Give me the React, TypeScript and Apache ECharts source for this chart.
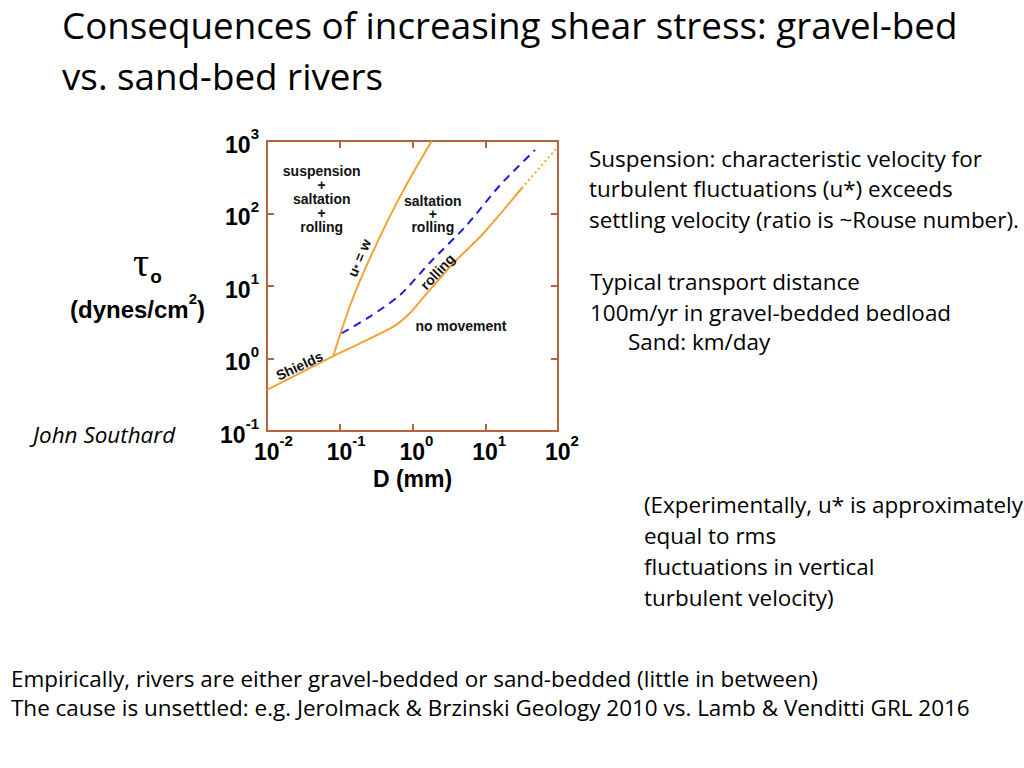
import { useEffect, useRef } from "react";
import * as echarts from "echarts";

// ---- data ----
const xTickExp = [-2, -1, 0, 1, 2];
const yTickExp = [-1, 0, 1, 2, 3];

// Shields threshold curve (D in mm, tau in dynes/cm^2)
const shieldsD = [0.01, 0.0815, 0.19, 0.545, 0.925, 1.57, 3.64, 9.4, 31.7];
const shieldsTau = [0.368, 1.08, 1.62, 2.75, 4.25, 7.9, 20.6, 53, 223];
// dotted extension of the Shields curve
const shieldsExtD = [31.7, 96];
const shieldsExtTau = [223, 793];
// u* = w curve
const uD = [0.0815, 0.1007, 0.138, 0.19, 0.339, 0.607, 1.026, 1.84];
const uTau = [1.08, 2.11, 5.3, 11.9, 43, 140, 368, 1000];
// blue dashed boundary (saltation / rolling)
const blueD = [0.1064, 0.26, 0.673, 1.74, 5.56, 16, 48.3];
const blueTau = [2.23, 3.78, 7.5, 21.1, 69, 247, 752];

const titleLines = [
  "Consequences of increasing shear stress: gravel-bed",
  "vs. sand-bed rivers",
];
const rightBlock1 = [
  "Suspension: characteristic velocity for",
  "turbulent fluctuations (u*) exceeds",
  "settling velocity (ratio is ~Rouse number).",
];
const rightBlock2 = ["Typical transport distance", "100m/yr in gravel-bedded bedload"];
const rightBlock2b = "Sand: km/day";
const credit = "John Southard";
const noteLines = [
  "(Experimentally, u* is approximately",
  "equal to rms",
  "fluctuations in vertical",
  "turbulent velocity)",
];
const bottomLines = [
  "Empirically, rivers are either gravel-bedded or sand-bedded (little in between)",
  "The cause is unsettled: e.g. Jerolmack & Brzinski Geology 2010 vs. Lamb & Venditti GRL 2016",
];

const ORANGE = "#f4a233";
const BLUE = "#1c1ce0";
const FRAME = "#b4653e";
const SANS = "Liberation Sans";
const BODY = "Open Sans";

const pairs = (a: number[], b: number[]) => a.map((v, i) => [v, b[i]]);

export default function App() {
  const ref = useRef<HTMLDivElement>(null);
  useEffect(() => {
    if (!ref.current) return;
    const chart = echarts.init(ref.current, undefined, { renderer: "svg", width: 1024, height: 768 });

    const ctx = document.createElement("canvas").getContext("2d")!;
    const fit = (text: string, family: string, width: number, style = "normal") => {
      ctx.font = `${style} normal 100px "${family}"`;
      return (100 * width) / ctx.measureText(text).width;
    };
    const titleSize = fit(titleLines[0], BODY, 896);
    const bodySize = fit(bottomLines[1], BODY, 959);

    const K_BODY = 0.388;
    const K_SANS = 0.3465;
    const bodyText = (text: string, x: number, baseline: number, size: number, italic = false) => ({
      type: "text",
      x,
      y: baseline - K_BODY * size,
      silent: true,
      style: {
        text,
        fill: "#000",
        fontFamily: BODY,
        fontSize: size,
        fontStyle: italic ? "italic" : "normal",
        align: "left",
        verticalAlign: "middle",
      },
    });
    const plotText = (text: string, x: number, y: number, rotDeg = 0, lineHeight = 14) => ({
      type: "text",
      x,
      y,
      rotation: (rotDeg * Math.PI) / 180,
      silent: true,
      z: 10,
      style: {
        text,
        fill: "#111",
        fontFamily: SANS,
        fontWeight: "bold",
        fontSize: 14,
        lineHeight,
        align: "center",
        verticalAlign: "middle",
      },
    });

    const elements: any[] = [];
    titleLines.forEach((t, i) => elements.push(bodyText(t, 62, [39.3, 90.3][i], titleSize)));
    rightBlock1.forEach((t, i) => elements.push(bodyText(t, 589, 167 + i * 30.7, bodySize)));
    rightBlock2.forEach((t, i) => elements.push(bodyText(t, 590, [290.5, 321][i], bodySize)));
    elements.push(bodyText(rightBlock2b, 628, 350.5, bodySize));
    elements.push(bodyText(credit, 33, 443.7, bodySize, true));
    noteLines.forEach((t, i) => elements.push(bodyText(t, 644, 513.5 + i * 30.8, bodySize)));
    bottomLines.forEach((t, i) => elements.push(bodyText(t, 11, [687, 716.5][i], bodySize)));

    // in-plot annotations
    elements.push(plotText("suspension\n+\nsaltation\n+\nrolling", 321.7, 199, 0, 14));
    elements.push(plotText("saltation\n+\nrolling", 432.8, 214, 0, 13));
    elements.push(plotText("no movement", 461, 325.7));
    elements.push(plotText("Shields", 299.3, 365.8, 25));
    elements.push(plotText("rolling", 437.5, 271.7, 47));
    elements.push({
      type: "text",
      x: 358.3,
      y: 257.5,
      rotation: (67 * Math.PI) / 180,
      silent: true,
      z: 10,
      style: {
        text: "{a|u}{s|*}{a| = w}",
        align: "center",
        verticalAlign: "middle",
        rich: {
          a: { fontFamily: SANS, fontWeight: "bold", fontSize: 14, fill: "#111", lineHeight: 16, verticalAlign: "bottom" },
          s: { fontFamily: SANS, fontWeight: "bold", fontSize: 10, fill: "#111", lineHeight: 10, verticalAlign: "bottom" },
        },
      },
    });

    // axis titles
    elements.push({
      type: "text",
      x: 412.5,
      y: 486.7 - K_SANS * 23,
      silent: true,
      style: { text: "D (mm)", fill: "#000", fontFamily: SANS, fontWeight: "bold", fontSize: 23, align: "center", verticalAlign: "middle" },
    });
    elements.push({
      type: "text",
      x: 141,
      y: 276 - 0.3375 * 40,
      silent: true,
      style: { text: "τ", fill: "#000", fontFamily: "Liberation Serif", fontSize: 40, align: "center", verticalAlign: "middle" },
    });
    elements.push({
      type: "text",
      x: 156,
      y: 283 - K_SANS * 19,
      silent: true,
      style: { text: "o", fill: "#000", fontFamily: SANS, fontWeight: "bold", fontSize: 19, align: "center", verticalAlign: "middle" },
    });
    elements.push({
      type: "text",
      x: 137.5,
      y: 306,
      silent: true,
      style: {
        text: "{a|(dynes/cm}{s|2}{a|)}",
        align: "center",
        verticalAlign: "middle",
        rich: {
          a: { fontFamily: SANS, fontWeight: "bold", fontSize: 24, fill: "#000", lineHeight: 30, verticalAlign: "bottom" },
          s: { fontFamily: SANS, fontWeight: "bold", fontSize: 15, fill: "#000", lineHeight: 16, verticalAlign: "top" },
        },
      },
    });

    const labelRich = {
      b: { fontFamily: SANS, fontWeight: "bold", fontSize: 23, color: "#000", lineHeight: 30, verticalAlign: "bottom" },
      s: { fontFamily: SANS, fontWeight: "bold", fontSize: 15, color: "#000", lineHeight: 16, verticalAlign: "top" },
      pn: { fontSize: 15, lineHeight: 16, width: 13 },
      pp: { fontSize: 15, lineHeight: 16, width: 8 },
    };
    const exp = (v: number) => Math.round(Math.log10(v));
    const xFmt = (v: number) => {
      const e = exp(v);
      if (!xTickExp.includes(e)) return "";
      return `{${e < 0 ? "pn" : "pp"}| }{b|10}{s|${e}}`;
    };
    const yFmt = (v: number) => {
      const e = exp(v);
      if (!yTickExp.includes(e)) return "";
      return `{b|10}{s|${e}}`;
    };

    const axisCommon = {
      type: "log",
      logBase: 10,
      axisLine: { show: true, onZero: false, lineStyle: { color: FRAME, width: 2 } },
      axisTick: { show: true, inside: true, length: 7, lineStyle: { color: FRAME, width: 2 } },
      splitLine: { show: false },
      minorTick: { show: false },
      minorSplitLine: { show: false },
    };

    const lineSeries = (name: string, d: number[], t: number[], color: string, type: any, smooth: number) => ({
      name,
      type: "line",
      data: pairs(d, t),
      showSymbol: false,
      symbol: "none",
      clip: true,
      smooth,
      lineStyle: { color, width: 2, type },
      z: 3,
    });

    chart.setOption({
      animation: false,
      backgroundColor: "#fff",
      grid: { left: 267, top: 141, width: 291, height: 290, containLabel: false },
      xAxis: [
        {
          ...axisCommon,
          position: "bottom",
          min: 10 ** xTickExp[0],
          max: 10 ** xTickExp[xTickExp.length - 1],
          axisLabel: { show: true, margin: 2, formatter: xFmt, rich: labelRich, showMinLabel: true, showMaxLabel: true },
        },
        {
          ...axisCommon,
          position: "top",
          min: 10 ** xTickExp[0],
          max: 10 ** xTickExp[xTickExp.length - 1],
          axisLabel: { show: false },
        },
      ],
      yAxis: [
        {
          ...axisCommon,
          position: "left",
          min: 10 ** yTickExp[0],
          max: 10 ** yTickExp[yTickExp.length - 1],
          axisLabel: { show: true, margin: 8, formatter: yFmt, rich: labelRich, showMinLabel: true, showMaxLabel: true },
        },
        {
          ...axisCommon,
          position: "right",
          min: 10 ** yTickExp[0],
          max: 10 ** yTickExp[yTickExp.length - 1],
          axisLabel: { show: false },
        },
      ],
      series: [
        lineSeries("Shields", shieldsD, shieldsTau, ORANGE, "solid", 0.25),
        lineSeries("Shields (extrapolated)", shieldsExtD, shieldsExtTau, ORANGE, [2, 3], 0),
        lineSeries("u* = w", uD, uTau, ORANGE, "solid", 0.25),
        lineSeries("saltation/rolling", blueD, blueTau, BLUE, [8, 6], 0.25),
      ],
      graphic: { elements },
    });

    return () => chart.dispose();
  }, []);

  return (
    <div
      ref={ref}
      style={{ position: "absolute", left: 0, top: 0, width: 1024, height: 768, background: "#fff" }}
    />
  );
}
